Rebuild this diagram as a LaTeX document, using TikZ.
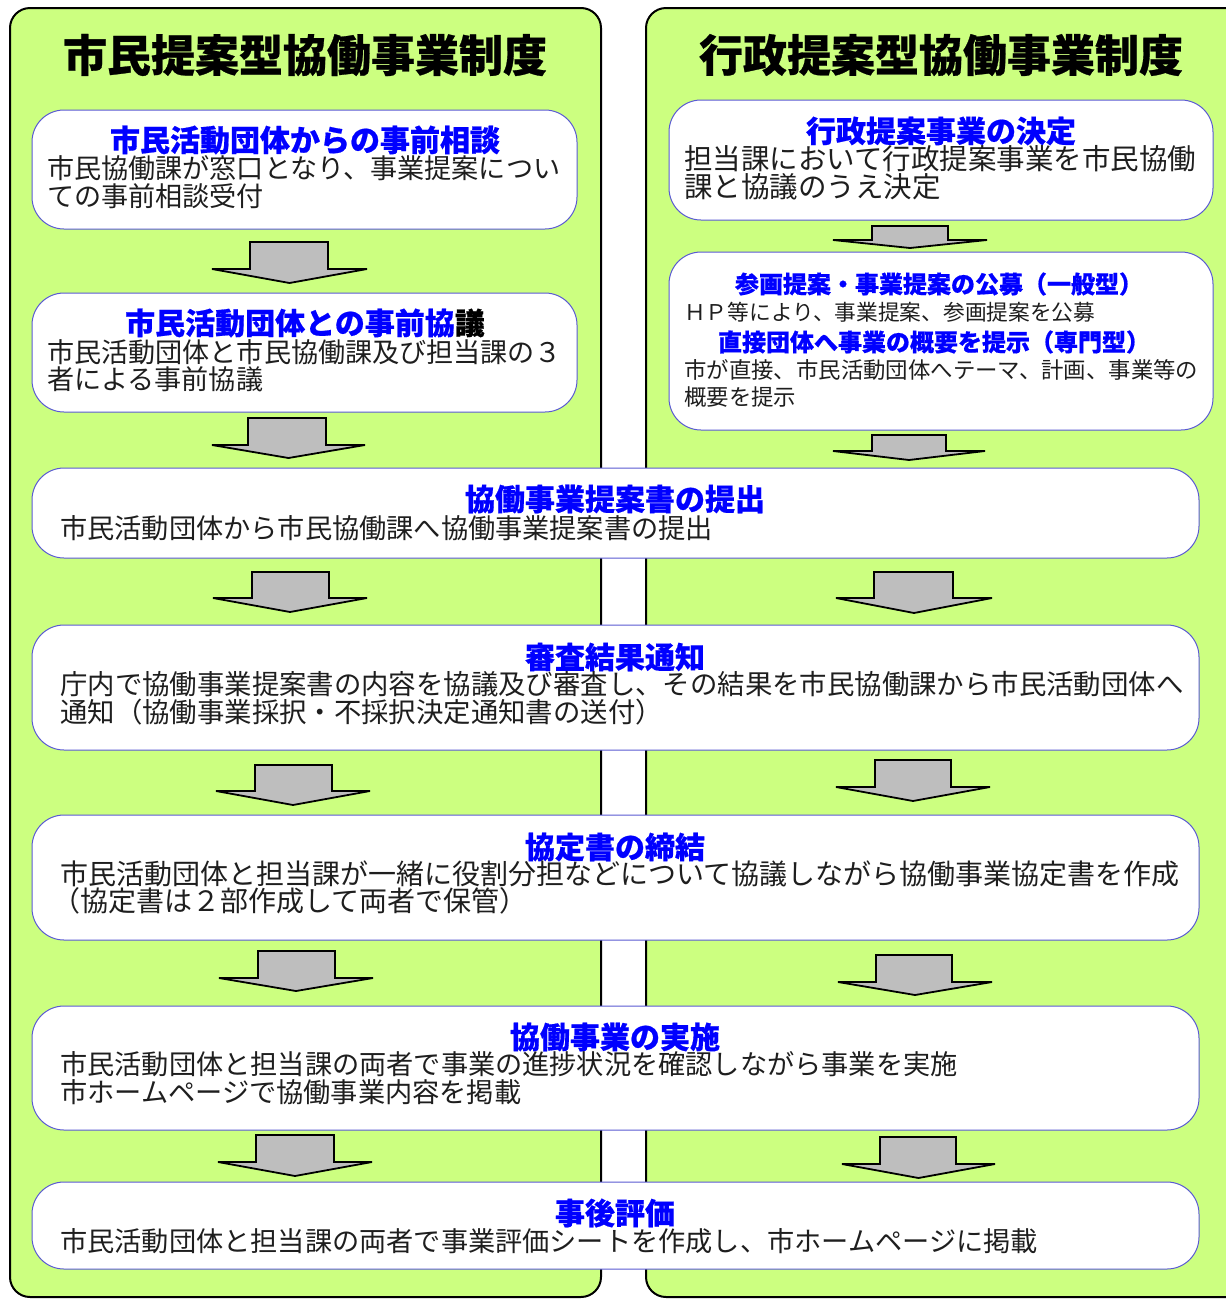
\documentclass[tikz,border=0pt]{standalone}
\usepackage{fontspec}
\setmainfont{Noto Sans CJK JP}[BoldFeatures={FakeBold=0.6}]
\definecolor{panelgreen}{RGB}{204,255,128}
\definecolor{boxblue}{RGB}{90,90,210}
\definecolor{ttlblue}{RGB}{0,0,255}
\definecolor{arrgray}{RGB}{190,190,190}
\definecolor{bodytxt}{RGB}{30,30,30}
\newcommand\blkarrow[7]{\draw[blockarrow] (#1,#5) -- (#2,#5) -- (#2,#6) -- (#4,#6) -- ({(#3+#4)/2},#7) -- (#3,#6) -- (#1,#6) -- cycle;}
\newcommand\fsz[1]{\fontsize{#1}{#1}\selectfont}
\begin{document}
\begin{tikzpicture}[x=1pt,y=-1pt,
  panel/.style={draw=black,line width=2pt,fill=panelgreen,rounded corners=20pt},
  flowbox/.style={draw=boxblue,line width=1pt,fill=white,rounded corners=32pt,inner sep=0pt},
  blockarrow/.style={draw=black,line width=1.8pt,fill=arrgray,line join=miter},
  bigttl/.style={inner sep=0pt,anchor=center,font=\bfseries\fsz{44},text=black},
  ttl/.style={inner sep=0pt,anchor=center,font=\bfseries\fsz{30},text=ttlblue},
  sttl/.style={inner sep=0pt,anchor=center,font=\bfseries\fsz{24},text=ttlblue},
  body/.style={inner sep=0pt,anchor=west,text=bodytxt}]
\useasboundingbox (0,0) rectangle (1226,1299);
\fill[white] (0,0) rectangle (1226,1299);
% panels
\draw[panel] (10,8) rectangle (601,1297);
\draw[panel] (646,8) rectangle (1260,1297);
\node[bigttl] (t1) at (305,55) {市民提案型協働事業制度};
\node[bigttl] (t2) at (941,55) {行政提案型協働事業制度};
% left boxes
\node[flowbox,minimum width=545,minimum height=119] (lb1) at (304.5,169.5) {};
\node[ttl] (lb1t) at (305,140) {市民活動団体からの事前相談};
\node[body,font=\fsz{27.1}] (lb1a) at (47,168) {市民協働課が窓口となり、事業提案につい};
\node[body,font=\fsz{27.1}] (lb1b) at (47,196) {ての事前相談受付};
\node[flowbox,minimum width=545,minimum height=119] (lb2) at (304.5,352.5) {};
\node[ttl] (lb2t) at (305,323) {市民活動団体との事前協\textcolor{black}{議}};
\node[body,font=\fsz{27.1}] (lb2a) at (47,352) {市民活動団体と市民協働課及び担当課の３};
\node[body,font=\fsz{27.1}] (lb2b) at (47,379) {者による事前協議};
% right boxes
\node[flowbox,minimum width=544,minimum height=120] (rb1) at (941,160) {};
\node[ttl] (rb1t) at (941,131) {行政提案事業の決定};
\node[body,font=\fsz{28.5}] (rb1a) at (684,159) {担当課において行政提案事業を市民協働};
\node[body,font=\fsz{28.5}] (rb1b) at (684,187) {課と協議のうえ決定};
\node[flowbox,minimum width=544,minimum height=178] (rb2) at (941,341) {};
\node[sttl] (rb2t1) at (939,284) {参画提案・事業提案の公募（一般型）};
\node[body,font=\fsz{21.7}] (rb2a) at (684,312) {ＨＰ等により、事業提案、参画提案を公募};
\node[sttl] (rb2t2) at (934,342) {直接団体へ事業の概要を提示（専門型）};
\node[body,font=\fsz{22.4}] (rb2b) at (684,370) {市が直接、市民活動団体へテーマ、計画、事業等の};
\node[body,font=\fsz{22.4}] (rb2c) at (684,397) {概要を提示};
% wide boxes
\node[flowbox,minimum width=1167,minimum height=90] (w3) at (615.5,513) {};
\node[ttl] (w3t) at (615,499) {協働事業提案書の提出};
\node[body,font=\fsz{27.2}] (w3a) at (60,528) {市民活動団体から市民協働課へ協働事業提案書の提出};
\node[flowbox,minimum width=1167,minimum height=125] (w4) at (615.5,687.5) {};
\node[ttl] (w4t) at (615,657) {審査結果通知};
\node[body,font=\fsz{27.4}] (w4a) at (60,684) {庁内で協働事業提案書の内容を協議及び審査し、その結果を市民協働課から市民活動団体へ};
\node[body,font=\fsz{27.4}] (w4b) at (60,712) {通知（協働事業採択・不採択決定通知書の送付）};
\node[flowbox,minimum width=1167,minimum height=125] (w5) at (615.5,877.5) {};
\node[ttl] (w5t) at (615,847) {協定書の締結};
\node[body,font=\fsz{28}] (w5a) at (60,874) {市民活動団体と担当課が一緒に役割分担などについて協議しながら協働事業協定書を作成};
\node[body,font=\fsz{28}] (w5b) at (52,901) {（協定書は２部作成して両者で保管）};
\node[flowbox,minimum width=1167,minimum height=124] (w6) at (615.5,1068) {};
\node[ttl] (w6t) at (615,1037) {協働事業の実施};
\node[body,font=\fsz{27.2}] (w6a) at (60,1064) {市民活動団体と担当課の両者で事業の進捗状況を確認しながら事業を実施};
\node[body,font=\fsz{27.2}] (w6b) at (60,1092) {市ホームページで協働事業内容を掲載};
\node[flowbox,minimum width=1167,minimum height=87] (w7) at (615.5,1225.5) {};
\node[ttl] (w7t) at (615,1213) {事後評価};
\node[body,font=\fsz{27.2}] (w7a) at (60,1241) {市民活動団体と担当課の両者で事業評価シートを作成し、市ホームページに掲載};
% block arrows (shaft x1, x2, wing x1, x2, top, wing y, tip y)
\blkarrow{250}{328}{212}{367}{242}{269}{283}
\blkarrow{248}{326}{212}{365}{418}{445}{458}
\blkarrow{252}{329}{213}{367}{572}{598}{612}
\blkarrow{255}{332}{216}{370}{765}{791}{805}
\blkarrow{258}{335}{219}{373}{951}{978}{991}
\blkarrow{256}{334}{218}{372}{1135}{1162}{1176}
\blkarrow{872}{948}{833}{987}{226}{240}{248}
\blkarrow{872}{946}{833}{985}{435}{451}{460}
\blkarrow{874}{953}{836}{992}{572}{598}{613}
\blkarrow{875}{951}{836}{990}{760}{787}{801}
\blkarrow{876}{952}{838}{992}{955}{982}{995}
\blkarrow{880}{956}{842}{995}{1137}{1164}{1178}
\end{tikzpicture}
\end{document}
